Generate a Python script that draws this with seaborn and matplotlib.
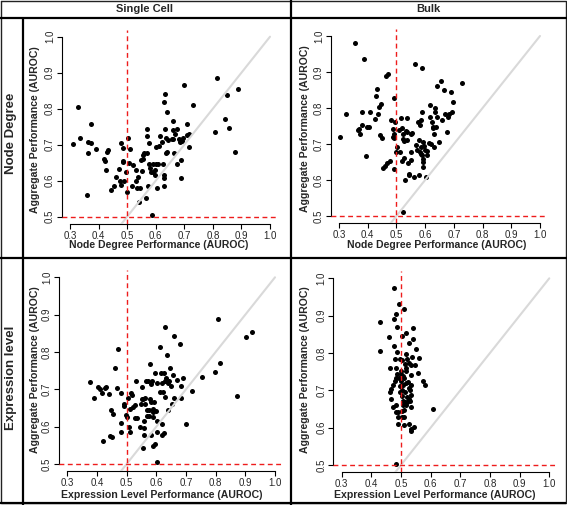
import numpy as np
import pandas as pd
import matplotlib
matplotlib.use("Agg")
import matplotlib.pyplot as plt
import seaborn as sns

# ---- data (AUROC values) ----
sc_degree_x = [0.309, 0.327, 0.335, 0.361, 0.362, 0.364, 0.373, 0.373, 0.391, 0.419,
               0.424, 0.426, 0.431, 0.434, 0.445, 0.455, 0.461, 0.473, 0.476, 0.477,
               0.479, 0.484, 0.484, 0.486, 0.490, 0.496, 0.498, 0.503, 0.508, 0.510,
               0.516, 0.522, 0.530, 0.532, 0.536, 0.539, 0.543, 0.545, 0.547, 0.551,
               0.554, 0.557, 0.560, 0.566, 0.568, 0.568, 0.571, 0.572, 0.577, 0.578,
               0.580, 0.582, 0.586, 0.589, 0.592, 0.598, 0.598, 0.601, 0.603, 0.602,
               0.609, 0.613, 0.615, 0.621, 0.627, 0.629, 0.629, 0.629, 0.630, 0.634,
               0.634, 0.635, 0.636, 0.638, 0.640, 0.644, 0.656, 0.659, 0.662, 0.662,
               0.663, 0.669, 0.673, 0.676, 0.683, 0.685, 0.687, 0.690, 0.691, 0.694,
               0.700, 0.708, 0.711, 0.715, 0.718, 0.732, 0.806, 0.813, 0.841, 0.851,
               0.858, 0.878, 0.889]
sc_degree_y = [0.702, 0.806, 0.718, 0.560, 0.707, 0.678, 0.705, 0.757, 0.688, 0.660,
               0.656, 0.631, 0.681, 0.685, 0.574, 0.584, 0.609, 0.632, 0.599, 0.704,
               0.588, 0.690, 0.656, 0.651, 0.600, 0.623, 0.569, 0.719, 0.648, 0.688,
               0.585, 0.644, 0.631, 0.600, 0.579, 0.610, 0.542, 0.581, 0.657, 0.627,
               0.671, 0.660, 0.676, 0.551, 0.743, 0.724, 0.677, 0.586, 0.705, 0.645,
               0.636, 0.625, 0.505, 0.647, 0.625, 0.616, 0.630, 0.645, 0.579, 0.694,
               0.645, 0.697, 0.723, 0.708, 0.645, 0.818, 0.616, 0.607, 0.586, 0.842,
               0.745, 0.676, 0.719, 0.681, 0.792, 0.714, 0.716, 0.716, 0.741, 0.766,
               0.676, 0.730, 0.744, 0.645, 0.716, 0.708, 0.607, 0.657, 0.710, 0.719,
               0.867, 0.727, 0.757, 0.694, 0.731, 0.810, 0.734, 0.886, 0.770, 0.838,
               0.747, 0.681, 0.854]

bulk_degree_x = [0.305, 0.324, 0.357, 0.388, 0.365, 0.370, 0.374, 0.379, 0.380, 0.396,
                 0.404, 0.408, 0.395, 0.427, 0.429, 0.434, 0.435, 0.438, 0.445, 0.443,
                 0.449, 0.454, 0.461, 0.466, 0.465, 0.472, 0.478, 0.481, 0.489, 0.489,
                 0.490, 0.491, 0.493, 0.493, 0.495, 0.497, 0.503, 0.508, 0.512, 0.516,
                 0.518, 0.521, 0.522, 0.524, 0.524, 0.525, 0.528, 0.530, 0.535, 0.536,
                 0.536, 0.538, 0.541, 0.543, 0.545, 0.550, 0.552, 0.552, 0.555, 0.562,
                 0.565, 0.567, 0.572, 0.574, 0.577, 0.580, 0.581, 0.582, 0.584, 0.586,
                 0.587, 0.589, 0.590, 0.590, 0.591, 0.593, 0.594, 0.594, 0.596, 0.598,
                 0.602, 0.605, 0.608, 0.614, 0.617, 0.617, 0.621, 0.624, 0.626, 0.629,
                 0.631, 0.632, 0.633, 0.634, 0.640, 0.638, 0.640, 0.648, 0.654, 0.659,
                 0.665, 0.670, 0.675, 0.681, 0.684, 0.689, 0.692, 0.698, 0.730]
bulk_degree_y = [0.719, 0.784, 0.981, 0.937, 0.739, 0.742, 0.727, 0.789, 0.752, 0.747,
                 0.747, 0.789, 0.666, 0.769, 0.832, 0.853, 0.782, 0.803, 0.810, 0.725,
                 0.717, 0.634, 0.638, 0.647, 0.889, 0.895, 0.654, 0.766, 0.719, 0.741,
                 0.716, 0.827, 0.631, 0.729, 0.762, 0.677, 0.693, 0.739, 0.677, 0.773,
                 0.744, 0.654, 0.727, 0.511, 0.714, 0.709, 0.660, 0.599, 0.736, 0.773,
                 0.710, 0.732, 0.647, 0.616, 0.614, 0.677, 0.727, 0.655, 0.731, 0.608,
                 0.923, 0.696, 0.683, 0.762, 0.613, 0.710, 0.753, 0.679, 0.766, 0.673,
                 0.692, 0.669, 0.790, 0.912, 0.706, 0.658, 0.650, 0.637, 0.694, 0.683,
                 0.607, 0.681, 0.669, 0.703, 0.809, 0.775, 0.701, 0.761, 0.748, 0.744,
                 0.727, 0.692, 0.801, 0.790, 0.775, 0.747, 0.861, 0.706, 0.875, 0.766,
                 0.850, 0.782, 0.734, 0.775, 0.784, 0.844, 0.790, 0.816, 0.870]

sc_expr_x = [0.375, 0.391, 0.403, 0.410, 0.418, 0.419, 0.428, 0.430, 0.442, 0.444,
             0.446, 0.449, 0.453, 0.462, 0.466, 0.470, 0.481, 0.480, 0.481, 0.491,
             0.492, 0.498, 0.500, 0.506, 0.508, 0.510, 0.511, 0.515, 0.517, 0.522,
             0.527, 0.528, 0.530, 0.536, 0.545, 0.548, 0.551, 0.552, 0.554, 0.556,
             0.558, 0.560, 0.560, 0.563, 0.563, 0.565, 0.567, 0.570, 0.572, 0.574,
             0.576, 0.579, 0.579, 0.581, 0.581, 0.583, 0.585, 0.588, 0.588, 0.588,
             0.590, 0.592, 0.596, 0.596, 0.599, 0.601, 0.601, 0.601, 0.603, 0.612,
             0.613, 0.617, 0.618, 0.619, 0.619, 0.624, 0.626, 0.627, 0.628, 0.628,
             0.630, 0.633, 0.637, 0.639, 0.640, 0.644, 0.646, 0.648, 0.653, 0.655,
             0.658, 0.660, 0.671, 0.680, 0.682, 0.684, 0.691, 0.700, 0.720, 0.753,
             0.798, 0.808, 0.816, 0.872, 0.903, 0.924]
sc_expr_y = [0.719, 0.678, 0.705, 0.701, 0.689, 0.562, 0.704, 0.707, 0.687, 0.576,
             0.644, 0.571, 0.633, 0.758, 0.703, 0.807, 0.689, 0.611, 0.585, 0.662,
             0.656, 0.631, 0.627, 0.678, 0.599, 0.647, 0.587, 0.689, 0.685, 0.653,
             0.658, 0.624, 0.721, 0.624, 0.600, 0.660, 0.674, 0.707, 0.542, 0.674,
             0.615, 0.578, 0.597, 0.676, 0.660, 0.721, 0.628, 0.645, 0.722, 0.629,
             0.644, 0.767, 0.674, 0.715, 0.579, 0.667, 0.722, 0.627, 0.640, 0.549,
             0.647, 0.667, 0.743, 0.553, 0.642, 0.716, 0.615, 0.506, 0.587, 0.812,
             0.694, 0.745, 0.716, 0.606, 0.578, 0.694, 0.582, 0.745, 0.721, 0.679,
             0.867, 0.731, 0.792, 0.716, 0.645, 0.722, 0.758, 0.708, 0.660, 0.738,
             0.844, 0.676, 0.725, 0.821, 0.678, 0.710, 0.731, 0.606, 0.696, 0.734,
             0.747, 0.887, 0.770, 0.682, 0.840, 0.854]

bulk_expr_x = [0.475, 0.494, 0.509, 0.483, 0.475, 0.430, 0.487, 0.542, 0.518, 0.460,
               0.503, 0.542, 0.528, 0.475, 0.551, 0.430, 0.487, 0.516, 0.537, 0.560,
               0.480, 0.497, 0.504, 0.520, 0.527, 0.512, 0.532, 0.548, 0.463, 0.483,
               0.517, 0.500, 0.517, 0.556, 0.488, 0.499, 0.508, 0.532, 0.483, 0.494,
               0.511, 0.481, 0.573, 0.500, 0.525, 0.517, 0.474, 0.581, 0.497, 0.508,
               0.534, 0.528, 0.465, 0.504, 0.530, 0.463, 0.513, 0.497, 0.532, 0.503,
               0.519, 0.465, 0.528, 0.508, 0.513, 0.521, 0.530, 0.506, 0.517, 0.474,
               0.535, 0.483, 0.504, 0.483, 0.491, 0.607, 0.511, 0.491, 0.503, 0.511,
               0.491, 0.509, 0.528, 0.544, 0.535, 0.532, 0.483]
bulk_expr_y = [0.975, 0.931, 0.917, 0.905, 0.890, 0.883, 0.870, 0.866, 0.854, 0.844,
               0.846, 0.838, 0.827, 0.820, 0.810, 0.804, 0.802, 0.796, 0.789, 0.786,
               0.783, 0.783, 0.780, 0.783, 0.772, 0.770, 0.768, 0.768, 0.761, 0.759,
               0.759, 0.752, 0.752, 0.746, 0.744, 0.743, 0.739, 0.741, 0.734, 0.734,
               0.733, 0.725, 0.725, 0.725, 0.721, 0.719, 0.713, 0.714, 0.712, 0.714,
               0.713, 0.705, 0.703, 0.701, 0.701, 0.696, 0.696, 0.695, 0.688, 0.686,
               0.683, 0.676, 0.677, 0.671, 0.668, 0.670, 0.671, 0.661, 0.661, 0.656,
               0.654, 0.661, 0.645, 0.641, 0.643, 0.650, 0.647, 0.629, 0.629, 0.629,
               0.610, 0.608, 0.609, 0.603, 0.596, 0.592, 0.504]

col_titles = ["Single Cell", "Bulk"]
row_titles = ["Node Degree", "Expression level"]
x_titles = ["Node Degree Performance (AUROC)", "Expression Level Performance (AUROC)"]
y_title = "Aggregate Performance (AUROC)"
x_ticks = [0.3, 0.4, 0.5, 0.6, 0.7, 0.8, 0.9, 1.0]
y_ticks = [0.5, 0.6, 0.7, 0.8, 0.9, 1.0]

sns.set_style("ticks")
plt.rcParams["font.family"] = ["Liberation Sans", "DejaVu Sans"]

W, H = 567, 505
fig = plt.figure(figsize=(W / 100, H / 100), dpi=100)

# frame / table lines drawn in pixel space
bg = fig.add_axes([0, 0, 1, 1])
bg.set_xlim(0, W)
bg.set_ylim(H, 0)
bg.axis("off")
bg.set_zorder(-1)
frame = dict(color="black", lw=1.6, solid_capstyle="butt")
bg.plot([0.5, W - 1.5, W - 1.5, 0.5, 0.5], [0.5, 0.5, H - 2, H - 2, 0.5], color="#222222", lw=1.0)
bg.plot([0, W], [17.5, 17.5], **frame)
bg.plot([0, W], [258, 258], **frame)
bg.plot([22.7, 22.7], [17.5, H], **frame)
bg.plot([291, 291], [0, H], **frame)
bg.plot([0, W - 1], [H - 2, H - 2], **frame)
bg.text(145, 9, col_titles[0], ha="center", va="center", fontsize=8, fontweight="bold")
bg.text(428.6, 9, col_titles[1], ha="center", va="center", fontsize=8, fontweight="bold")
bg.text(11.5, 133, row_titles[0], ha="center", va="center", rotation=90, fontsize=9.5, fontweight="bold")
bg.text(11.5, 378, row_titles[1], ha="center", va="center", rotation=90, fontsize=9.5, fontweight="bold")

# per panel: pixel of x=0.3, x=1.0, y=0.5, y=1.0, xlabel centre, ylabel centre
panels = [
    (sc_degree_x, sc_degree_y, 0, (70, 270, 216.7, 36.7), (159, 245), (35, 130)),
    (bulk_degree_x, bulk_degree_y, 0, (339, 540, 216, 36), (437, 245), (305, 128.5)),
    (sc_expr_x, sc_expr_y, 1, (67.3, 275, 464, 277.3), (162, 494.5), (35, 370)),
    (bulk_expr_x, bulk_expr_y, 1, (341.7, 549.3, 465, 278.3), (435, 495), (305, 370)),
]

red = "#ee1c1c"
for xs, ys, xt, (x03, x10, y05, y10), xl, yl in panels:
    sx = (x10 - x03) / 0.7
    sy = (y05 - y10) / 0.5
    left = x03 - 0.028 * sx
    right = x10 + 0.028 * sx
    top = y10 - 0.02 * sy
    bottom = y05 + 0.02 * sy
    ax = fig.add_axes([left / W, (H - bottom) / H, (right - left) / W, (bottom - top) / H])
    ax.patch.set_alpha(0)
    df = pd.DataFrame({"x": xs, "y": ys})
    sns.scatterplot(data=df, x="x", y="y", ax=ax, color="black", s=13,
                    linewidth=0, zorder=2)
    ax.plot([0, 1], [0, 1], color="#d9d9d9", lw=1.5, zorder=3)
    ax.axvline(0.5, color=red, lw=1.0, ls=(0, (3.5, 2.5)), zorder=4)
    ax.axhline(0.5, color=red, lw=1.0, ls=(0, (3.5, 2.5)), zorder=4)
    ax.set_xlim(0.272, 1.028)
    ax.set_ylim(0.48, 1.02)
    ax.set_xticks(x_ticks)
    ax.set_yticks(y_ticks)
    ax.set_xticklabels([f"{v:.1f}" for v in x_ticks])
    ax.set_yticklabels([f"{v:.1f}" for v in y_ticks], rotation=90, va="center")
    for s in ["top", "right"]:
        ax.spines[s].set_visible(False)
    ax.spines["left"].set_bounds(0.5, 1.0)
    ax.spines["bottom"].set_bounds(0.3, 1.0)
    for s in ["left", "bottom"]:
        ax.spines[s].set_linewidth(0.8)
        ax.spines[s].set_color("black")
    ax.tick_params(axis="both", direction="out", length=3.5, width=0.8,
                   labelsize=7, pad=1.5, color="black", bottom=True, left=True)
    ax.set_xlabel(x_titles[xt], fontsize=7.6, fontweight="bold")
    ax.set_ylabel(y_title, fontsize=7.6, fontweight="bold")
    # place axis titles at measured pixel centres
    ax.xaxis.label.set_va("center")
    ax.yaxis.label.set_va("center")
    ax.xaxis.set_label_coords((xl[0] - left) / (right - left), (bottom - xl[1]) / (bottom - top))
    ax.yaxis.set_label_coords((yl[0] - left) / (right - left), (bottom - yl[1]) / (bottom - top))

fig.savefig("out.png", dpi=100)
